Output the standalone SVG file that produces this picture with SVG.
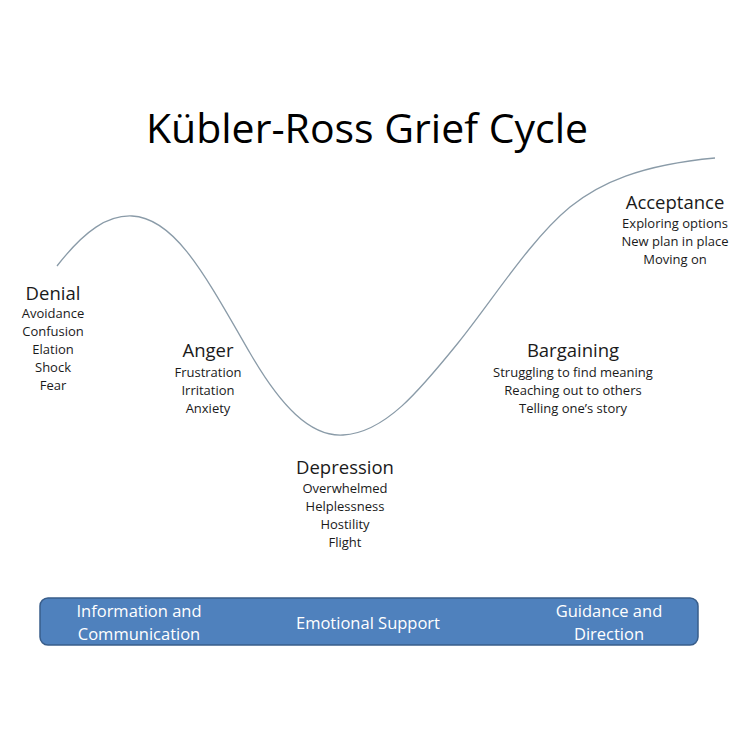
<svg xmlns="http://www.w3.org/2000/svg" width="750" height="750" viewBox="0 0 750 750">
<style>
text{font-family:"Open Sans","Noto Sans",sans-serif;text-anchor:middle;fill:#1a1a1a}
.h{font-size:18.5px}
.i{font-size:13px}
.t{font-size:41px;fill:#000}
.b{font-size:16.5px;fill:#fff}
</style>
<rect width="750" height="750" fill="#fff"/>
<text class="t" x="367" y="143">Kübler-Ross Grief Cycle</text>
<g id="connectors">
<path d="M57,266 C85,230 108,215 132,216 C175,218 205,275 250,353 C280,405 310,437 343,435 C385,433 420,390 458,343 C492,301 530,240 570,207 C600,183 640,165 715,158" fill="none" stroke="#8a9ba8" stroke-width="1.3"/>
</g>
<g id="denial">
<text class="h" x="53" y="300">Denial</text>
<text class="i" x="53" y="318">Avoidance</text>
<text class="i" x="53" y="336">Confusion</text>
<text class="i" x="53" y="354">Elation</text>
<text class="i" x="53" y="372">Shock</text>
<text class="i" x="53" y="390">Fear</text>
</g>
<g id="anger">
<text class="h" x="208" y="357">Anger</text>
<text class="i" x="208" y="377">Frustration</text>
<text class="i" x="208" y="395">Irritation</text>
<text class="i" x="208" y="413">Anxiety</text>
</g>
<g id="depression">
<text class="h" x="345" y="474">Depression</text>
<text class="i" x="345" y="493">Overwhelmed</text>
<text class="i" x="345" y="511">Helplessness</text>
<text class="i" x="345" y="529">Hostility</text>
<text class="i" x="345" y="547">Flight</text>
</g>
<g id="bargaining">
<text class="h" x="573" y="357">Bargaining</text>
<text class="i" x="573" y="377">Struggling to find meaning</text>
<text class="i" x="573" y="395">Reaching out to others</text>
<text class="i" x="573" y="413">Telling one’s story</text>
</g>
<g id="acceptance">
<text class="h" x="675" y="209">Acceptance</text>
<text class="i" x="675" y="228">Exploring options</text>
<text class="i" x="675" y="246">New plan in place</text>
<text class="i" x="675" y="264">Moving on</text>
</g>
<g id="support-bar">
<rect x="40" y="598" width="658" height="47" rx="8" fill="#4f81bd" stroke="#385d8a" stroke-width="1.5"/>
<text class="b" x="139" y="617">Information and</text>
<text class="b" x="139" y="640">Communication</text>
<text class="b" x="368" y="629">Emotional Support</text>
<text class="b" x="609" y="617">Guidance and</text>
<text class="b" x="609" y="640">Direction</text>
</g>
</svg>
